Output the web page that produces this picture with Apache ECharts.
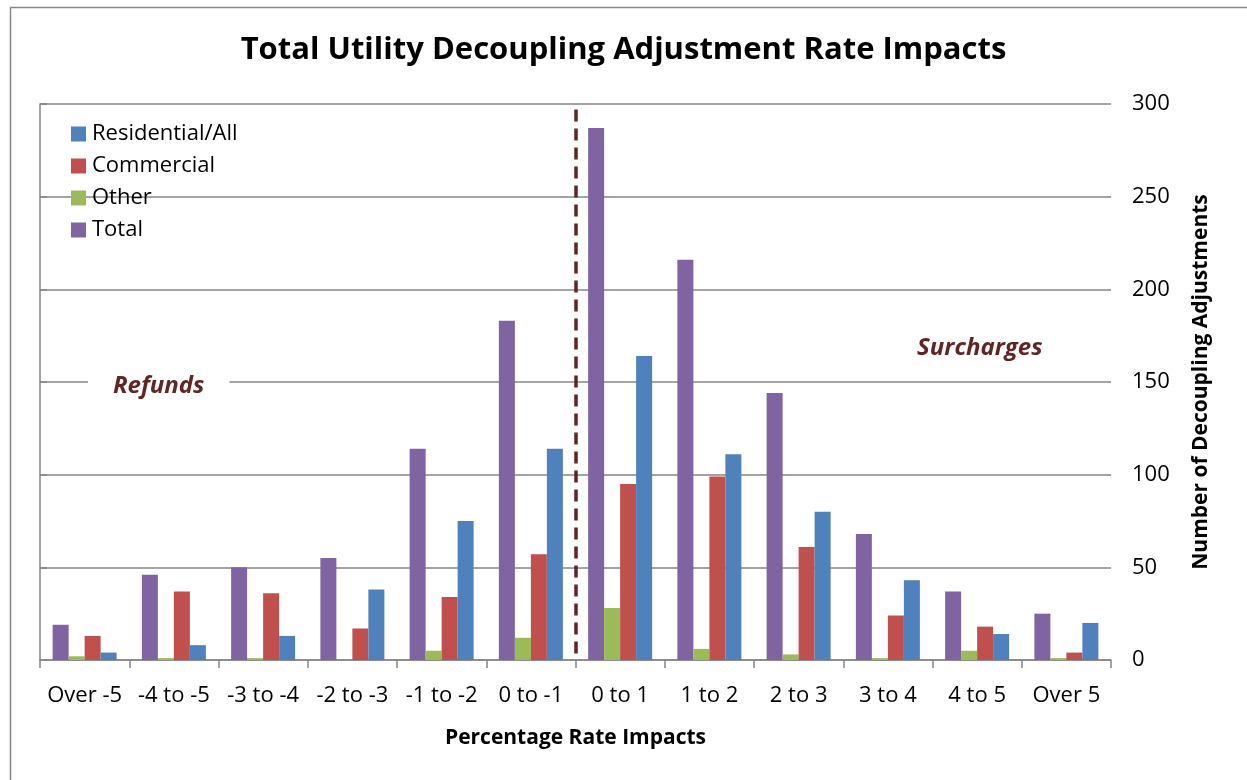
<!DOCTYPE html>
<html>
<head>
<meta charset="utf-8">
<script src="https://cdn.jsdelivr.net/npm/echarts@6/dist/echarts.min.js"></script>
<style>
  html, body { margin: 0; padding: 0; background: #fff; }
  #main { width: 1247px; height: 780px; }
</style>
</head>
<body>
<div id="main"></div>
<script>
var categories = ['Over -5', '-4 to -5', '-3 to -4', '-2 to -3', '-1 to -2', '0 to -1',
  '0 to 1', '1 to 2', '2 to 3', '3 to 4', '4 to 5', 'Over 5'];
var totalVals = [19, 46, 50, 55, 114, 183, 287, 216, 144, 68, 37, 25];
var otherVals = [2, 1, 1, 0, 5, 12, 28, 6, 3, 1, 5, 1];
var commercialVals = [13, 37, 36, 17, 34, 57, 95, 99, 61, 24, 18, 4];
var residentialVals = [4, 8, 13, 38, 75, 114, 164, 111, 80, 43, 14, 20];
var yTicks = [0, 50, 100, 150, 200, 250, 300];

var font = 'Open Sans';
var dark = '#632523';

var chart = echarts.init(document.getElementById('main'), null, { renderer: 'canvas' });

function barSeries(name, data, color) {
  return {
    name: name,
    type: 'bar',
    data: data,
    barWidth: 16,
    barGap: '0%',
    itemStyle: { color: color }
  };
}

var option = {
  backgroundColor: '#fff',
  animation: false,
  title: {
    text: 'Total Utility Decoupling Adjustment Rate Impacts',
    left: 'center',
    top: 30,
    textStyle: { fontFamily: font, fontWeight: 'bold', fontSize: 31, color: '#000' }
  },
  legend: {
    orient: 'vertical',
    left: 66,
    top: 118,
    itemWidth: 15,
    itemHeight: 15,
    itemGap: 10,
    icon: 'rect',
    data: ['Residential/All', 'Commercial', 'Other', 'Total'],
    textStyle: { fontFamily: font, fontSize: 22, color: '#000', padding: [0, 0, 0, 1] }
  },
  grid: { left: 40, right: 136, top: 104, bottom: 120 },
  xAxis: [
    {
      type: 'category',
      data: categories,
      name: 'Percentage Rate Impacts',
      nameLocation: 'middle',
      nameGap: 68,
      nameTextStyle: { fontFamily: font, fontWeight: 'bold', fontSize: 21, color: '#000' },
      axisLine: { lineStyle: { color: '#868686', width: 1.5 } },
      axisTick: { show: true, length: 8, lineStyle: { color: '#868686', width: 1.5 } },
      axisLabel: { fontFamily: font, fontSize: 22, color: '#000', margin: 25, interval: 0 }
    },
    {
      // hidden value axis, used to place the divider and the notes between categories
      type: 'value',
      min: 0,
      max: 12,
      show: false
    }
  ],
  yAxis: {
    type: 'value',
    position: 'right',
    min: yTicks[0],
    max: yTicks[yTicks.length - 1],
    interval: 50,
    name: 'Number of Decoupling Adjustments',
    nameLocation: 'middle',
    nameRotate: 90,
    nameGap: 80,
    nameTextStyle: { fontFamily: font, fontWeight: 'bold', fontSize: 21, color: '#000' },
    axisLine: { show: true, lineStyle: { color: '#868686', width: 1.5 } },
    axisTick: { show: true, length: 7, lineStyle: { color: '#868686', width: 1.5 } },
    axisLabel: { fontFamily: font, fontSize: 22, color: '#000', margin: 21 },
    splitLine: { show: true, lineStyle: { color: '#868686', width: 1.5 } }
  },
  series: [
    barSeries('Total', totalVals, '#8064A2'),
    barSeries('Other', otherVals, '#9BBB59'),
    barSeries('Commercial', commercialVals, '#C0504D'),
    barSeries('Residential/All', residentialVals, '#4F81BD'),
    {
      type: 'line',
      xAxisIndex: 1,
      data: [],
      silent: true,
      markLine: {
        symbol: ['none', 'none'],
        silent: true,
        label: { show: false },
        lineStyle: { color: dark, type: [12, 7], width: 3.5 },
        data: [[{ coord: [6, 297] }, { coord: [6, 0] }]]
      },
      markPoint: {
        symbol: 'rect',
        symbolSize: 0,
        silent: true,
        label: {
          show: true,
          position: 'inside',
          fontFamily: font,
          fontSize: 24,
          fontWeight: 'bold',
          fontStyle: 'italic',
          color: dark
        },
        data: [
          { coord: [1.33, 147.5], value: 'Refunds',
            label: { formatter: 'Refunds', backgroundColor: '#fff', padding: [4, 25, 4, 25] } },
          { coord: [10.53, 168.5], value: 'Surcharges', label: { formatter: 'Surcharges' } }
        ]
      }
    }
  ],
  graphic: [
    {
      // outer frame of the original chart
      type: 'rect',
      left: 8,
      top: 5,
      shape: { width: 1400, height: 900 },
      style: { fill: 'none', stroke: '#868686', lineWidth: 1.5 },
      silent: true
    }
  ]
};

chart.setOption(option);
</script>
</body>
</html>
